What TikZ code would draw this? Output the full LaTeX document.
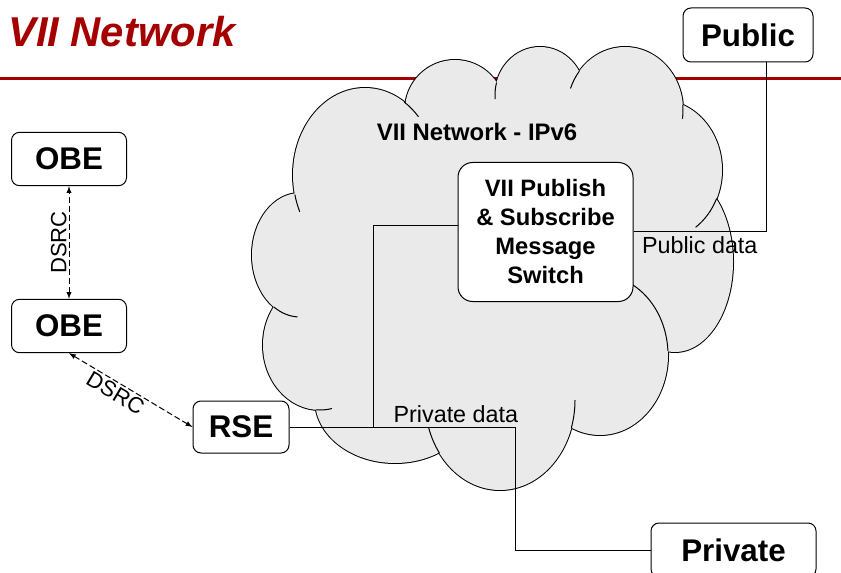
\documentclass[tikz,border=0pt]{standalone}
\usepackage{fontspec}
\setmainfont{Liberation Sans}
\usepackage{tikz}
\usetikzlibrary{positioning,arrows}
\definecolor{viired}{RGB}{165,0,0}
\definecolor{cloudgray}{RGB}{234,234,234}
\tikzstyle{dev}=[draw, fill=white, rounded corners=6pt, inner sep=0pt, line width=0.75pt, font=\fontsize{23.5}{26}\selectfont\bfseries]
\tikzstyle{obe}=[dev, minimum width=86.25pt, minimum height=40pt]
\tikzstyle{lbl}=[inner sep=3pt, font=\fontsize{17.5}{20}\selectfont]
\tikzstyle{link}=[line width=0.75pt]
\tikzstyle{radio}=[<->, dashed, dash pattern=on 4.5pt off 2.25pt, line width=0.75pt]

\begin{document}
\begin{tikzpicture}[x=0.75pt,y=-0.75pt,>=latex]
\useasboundingbox (0,0) rectangle (841,573);

\node[anchor=base west, text=viired, inner sep=0pt, font=\fontsize{31.3}{34}\selectfont\bfseries\itshape] (title) at (8,47) {VII Network};
\draw[viired, line width=2.25pt] (0,79) -- (841,79);

% cloud: outline of the puffs, then fill the inside
\foreach \cx/\cy/\rx/\ry in {300/255/48/62, 320/345/57/65, 395/400/80/63, 500/400/75/90, 600/355/68/80, 675/262/58/90, 660/170/62/70, 625/110/58/63, 540/95/45/48, 455/110/50/50, 365/175/72/87}
  \draw[line width=1.5pt] (\cx,\cy) ellipse [x radius=\rx, y radius=\ry];
\foreach \cx/\cy/\rx/\ry in {300/255/48/62, 320/345/57/65, 395/400/80/63, 500/400/75/90, 600/355/68/80, 675/262/58/90, 660/170/62/70, 625/110/58/63, 540/95/45/48, 455/110/50/50, 365/175/72/87, 490/265/160/140, 580/160/90/45, 500/140/60/30}
  \fill[cloudgray] (\cx,\cy) ellipse [x radius=\rx, y radius=\ry];
% inner ends of the puffs
\foreach \cx/\cy/\rx/\ry/\a/\b in {365/175/72/87/167/155, 300/255/48/62/123/93, 320/345/57/65/94/78, 500/400/75/90/144/162, 500/400/75/90/18/0, 600/355/68/80/-3/-62, 660/170/62/70/24/55, 625/110/58/63/-5/8, 625/110/58/63/-142/-160, 540/95/45/48/-165/-185, 365/175/72/87/-57/-42}
  \draw[line width=0.75pt] ({\cx+\rx*cos(\a)},{\cy+\ry*sin(\a)}) arc[start angle=\a, end angle=\b, x radius=\rx, y radius=\ry];

\node[anchor=base, inner sep=0pt, font=\fontsize{17.9}{20}\selectfont\bfseries] (net) at (477,141) {VII Network - IPv6};

\node[obe] (obe1) at (69,159) {OBE};
\node[obe] (obe2) at (69,326) {OBE};
\node[dev, minimum width=72pt, minimum height=39pt] (rse) at (241,427) {RSE};
\node[dev, minimum width=97.5pt, minimum height=40.5pt] (pub) at (748,35) {Public};
\node[dev, minimum width=123.75pt, minimum height=40.5pt] (priv) at (733.5,550) {Private};
\node[dev, rounded corners=11pt, minimum width=131.25pt, minimum height=104.25pt, align=center, font=\fontsize{17.8}{21.75}\selectfont\bfseries] (sw) at (545.5,232) {VII Publish\\\& Subscribe\\Message\\Switch};

\draw[radio] (obe2.north) -- node[lbl, above, sloped, inner sep=1.5pt, font=\fontsize{16.6}{18}\selectfont] (dsrc1) {DSRC} (obe1.south);
\draw[radio] (obe2.south) -- node[lbl, below, sloped, pos=0.42, inner sep=1.5pt, font=\fontsize{16.6}{18}\selectfont] (dsrc2) {DSRC} (rse.west);

\coordinate[right=63pt of rse.east] (hub);
\draw[link] (rse.east) -- (hub) |- ([yshift=5pt]sw.west);
\draw[link] (hub) -- ++(142,0) node[lbl, above, pos=0.58] (pdata) {Private data} |- (priv.west);
\draw[link] (sw.east) -| ([xshift=13.5pt]pub.south) node[lbl, below, pos=0.25] (pubdata) {Public data};
\end{tikzpicture}
\end{document}
